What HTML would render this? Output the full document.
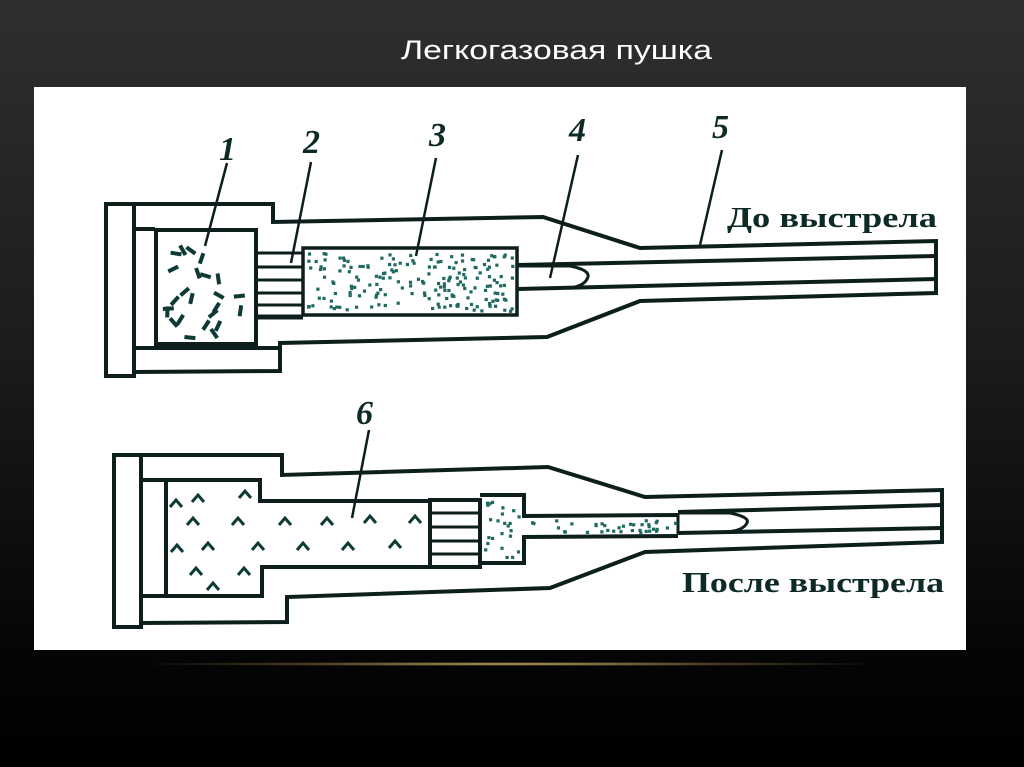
<!DOCTYPE html>
<html><head><meta charset="utf-8">
<style>
html,body{margin:0;padding:0;width:1024px;height:767px;overflow:hidden;background:#000}
#bg{position:absolute;left:0;top:0;width:1024px;height:767px;background:linear-gradient(#2f2f2f 0%,#1c1c1c 45%,#050505 85%,#000 100%)}
#panel{position:absolute;left:34px;top:87px;width:932px;height:563px;background:#fff}
#gold{position:absolute;left:150px;top:662px;width:720px;height:4px;background:radial-gradient(ellipse at 50% 50%,rgba(230,200,130,.9) 0%,rgba(160,130,70,.5) 40%,rgba(0,0,0,0) 75%)}
svg{position:absolute;left:0;top:0}
</style></head><body>
<div id="bg"></div>
<div id="panel"></div>
<div id="gold"></div>
<svg id="s" width="1024" height="767" viewBox="0 0 1024 767">
<text x="401" y="59" fill="#fff" font-family="Liberation Sans,sans-serif" font-size="27" textLength="311" lengthAdjust="spacingAndGlyphs">Легкогазовая пушка</text>
<g fill="none" stroke="#0d1f1c" stroke-width="4" stroke-linejoin="miter">
<rect x="106" y="204" width="28" height="172"/>
<polyline points="134,204 273,204 273,222 543,217 640,248 936,241 936,293 640,301 547,337 280,343 280,371 134,372"/>
<polyline points="134,229 155,229"/>
<polyline points="134,348 280,348"/>
<rect x="156" y="230" width="100" height="114"/>
<line x1="517" y1="265" x2="936" y2="256"/>
<line x1="517" y1="289" x2="936" y2="279"/>
<rect x="303" y="248" width="214" height="67" stroke-width="3.5"/>
<g stroke-width="3">
<line x1="256" y1="253" x2="303" y2="253"/><line x1="256" y1="267" x2="303" y2="267"/>
<line x1="256" y1="280" x2="303" y2="280"/><line x1="256" y1="293" x2="303" y2="293"/>
<line x1="256" y1="305" x2="303" y2="305"/>
</g>
<line x1="256" y1="317" x2="303" y2="317" stroke-width="5"/>
<path d="M518,266 L570,266 Q590,270 588,277 Q585,286 570,288" stroke-width="3"/>
<g stroke-width="2.5">
<line x1="227" y1="163" x2="205" y2="246"/>
<line x1="311" y1="162" x2="291" y2="263"/>
<line x1="436" y1="158" x2="416" y2="256"/>
<line x1="578" y1="155" x2="550" y2="278"/>
<line x1="722" y1="150" x2="700" y2="245"/>
</g>
<rect x="114" y="455" width="27" height="172"/>
<polyline points="141,455 282,455 282,475 548,467 645,497 942,490 942,542 645,552 550,588 287,597 287,622 141,623"/>
<polyline points="141,480 260,480 260,501 430,501"/>
<polyline points="141,596 262,596 262,567 430,567"/>
<line x1="166" y1="481" x2="166" y2="596"/>
<rect x="430" y="500" width="50" height="67"/>
<g stroke-width="3">
<line x1="430" y1="513" x2="480" y2="513"/><line x1="430" y1="527" x2="480" y2="527"/>
<line x1="430" y1="541" x2="480" y2="541"/><line x1="430" y1="554" x2="480" y2="554"/>
</g>
<polyline points="480,495 524,495 524,516 678,515"/>
<polyline points="480,563 524,563 524,537 678,536"/>
<line x1="678" y1="513" x2="678" y2="534" stroke-width="3"/>
<line x1="678" y1="512" x2="942" y2="505"/>
<line x1="678" y1="533" x2="942" y2="528"/>
<path d="M678,513 L730,513 Q750,517 747,523 Q743,531 725,532" stroke-width="3"/>
<line x1="369" y1="430" x2="352" y2="518" stroke-width="2.5"/>
</g>
<g id="dots" fill="#1f6a62"></g>
<g fill="#0d2a26" font-family="Liberation Serif,serif" font-style="italic" font-weight="bold" font-size="34">
<text x="219" y="160">1</text><text x="303" y="153">2</text><text x="429" y="146">3</text>
<text x="569" y="141">4</text><text x="712" y="138">5</text><text x="356" y="424">6</text>
</g>
<g fill="#0d2a26" font-family="Liberation Serif,serif" font-weight="bold" font-size="28">
<text x="727" y="227" textLength="210" lengthAdjust="spacingAndGlyphs">До выстрела</text>
<text x="682" y="592" textLength="262" lengthAdjust="spacingAndGlyphs">После выстрела</text>
</g>
</svg>
<script>
var g=document.getElementById('dots'),ns='http://www.w3.org/2000/svg',seed=7;
function r(){seed=(seed*16807)%2147483647;return seed/2147483647;}
function dots(x0,y0,x1,y1,n){for(var i=0;i<n;i++){var e=document.createElementNS(ns,'rect');e.setAttribute('x',(x0+r()*(x1-x0)).toFixed(1));e.setAttribute('y',(y0+r()*(y1-y0)).toFixed(1));e.setAttribute('width',3.2);e.setAttribute('height',3.2);g.appendChild(e);}}
dots(307,252,512,310,190);dots(484,499,519,558,24);dots(526,519,675,532,36);
function dash(x0,y0,x1,y1,n){for(var i=0;i<n;i++){var e=document.createElementNS(ns,'rect');var x=x0+r()*(x1-x0),y=y0+r()*(y1-y0),a=Math.floor(r()*180);e.setAttribute('x',x-5);e.setAttribute('y',y-2);e.setAttribute('width',11);e.setAttribute('height',4);e.setAttribute('transform','rotate('+a+' '+x+' '+y+')');e.setAttribute('fill','#0d3a35');g.appendChild(e);}}
dash(165,238,249,338,24);
var ch=[[198,497],[245,493],[176,502],[193,520],[238,520],[285,520],[327,520],[370,518],[415,518],[177,547],[208,545],[258,545],[303,545],[348,545],[395,543],[196,570],[244,570],[213,585]];
ch.forEach(function(p){var e=document.createElementNS(ns,'polyline');e.setAttribute('points',(p[0]-6)+','+(p[1]+5)+' '+p[0]+','+(p[1]-2)+' '+(p[0]+6)+','+(p[1]+5));e.setAttribute('fill','none');e.setAttribute('stroke','#0d3a35');e.setAttribute('stroke-width','3');g.appendChild(e);});
</script>
</body></html>
